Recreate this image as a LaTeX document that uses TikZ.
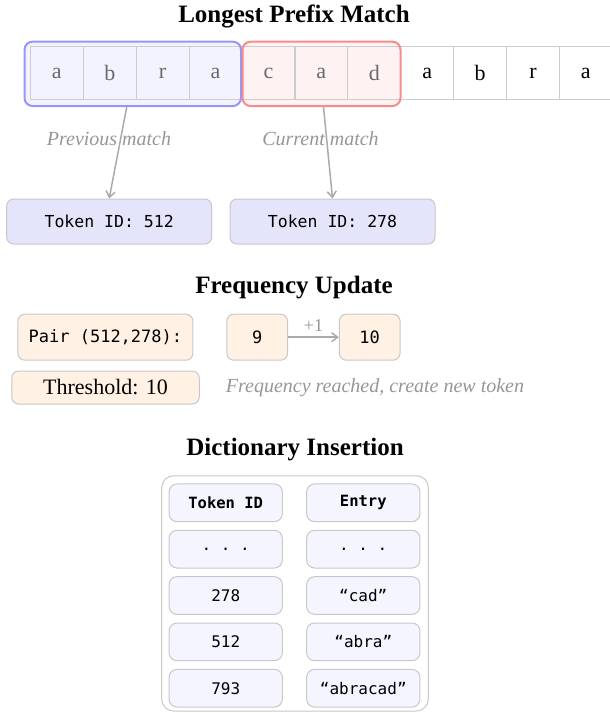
\documentclass[tikz,border=0pt]{standalone}
\usepackage{fontspec}
\setmainfont{Liberation Serif}
\setmonofont{DejaVu Sans Mono}
\usetikzlibrary{arrows.meta}
\definecolor{bluebd}{RGB}{150,150,250}
\definecolor{redbd}{RGB}{245,140,140}
\definecolor{bluefill}{RGB}{243,243,255}
\definecolor{redfill}{RGB}{255,242,242}
\definecolor{tokfill}{RGB}{228,228,250}
\definecolor{peach}{RGB}{255,241,228}
\definecolor{greybd}{RGB}{200,200,200}
\definecolor{cellbd}{RGB}{205,205,205}
\definecolor{lblgrey}{RGB}{150,150,150}
\definecolor{lettergrey}{RGB}{105,105,105}
\definecolor{arrgrey}{RGB}{170,170,170}
\definecolor{dictfill}{RGB}{245,245,255}
\begin{document}
\begin{tikzpicture}[x=1pt,y=-1pt,
  title/.style={font=\fontsize{25}{29}\selectfont\bfseries, inner sep=0pt},
  cell/.style={draw=cellbd, line width=1.2pt, minimum width=52.9pt, minimum height=52.6pt, inner sep=0pt, font=\fontsize{22}{26}\selectfont},
  matchbox/.style={rounded corners=8pt, line width=2pt, minimum height=64.3pt, inner sep=0pt},
  tokbox/.style={draw=greybd, line width=1pt, fill=tokfill, rounded corners=7pt, minimum width=205pt, minimum height=45pt, inner sep=0pt, font=\fontsize{16.5}{20}\selectfont\ttfamily},
  lbl/.style={text=lblgrey, font=\fontsize{20}{24}\selectfont\itshape, inner sep=0pt},
  arr/.style={draw=arrgrey, line width=1.5pt, -{Straight Barb[length=6pt,width=9pt]}},
  peachbox/.style={draw=greybd, line width=1pt, fill=peach, rounded corners=7pt, minimum height=46pt, inner sep=0pt, font=\fontsize{17}{20}\selectfont\ttfamily},
  dictcell/.style={draw=greybd, line width=1pt, fill=dictfill, rounded corners=8pt, minimum width=113.3pt, minimum height=37.7pt, inner sep=0pt, font=\fontsize{16}{19}\selectfont\ttfamily},
  dicthead/.style={dictcell, font=\fontsize{15.5}{19}\selectfont\ttfamily\bfseries}
]
\useasboundingbox (0,0) rectangle (610,713);

% ---- Longest Prefix Match ----
\node[title] (t1) at (294,16) {Longest Prefix Match};
\node[matchbox, fill=bluefill, minimum width=216.5pt] (prevbg) at (132.75,73.85) {};
\node[matchbox, fill=redfill, minimum width=158pt] (currbg) at (321.5,73.85) {};
\foreach \i/\ch in {0/a,1/b,2/r,3/a}
  \node[cell, fill=bluefill, text=lettergrey] (c\i) at ({30.4+52.9*\i+26.45},73) {\ch};
\foreach \i/\ch in {4/c,5/a,6/d}
  \node[cell, fill=redfill, text=lettergrey] (c\i) at ({30.4+52.9*\i+26.45},73) {\ch};
\foreach \i/\ch in {7/a,8/b,9/r,10/a}
  \node[cell, fill=white, text=black] (c\i) at ({30.4+52.9*\i+26.45},73) {\ch};
\node[matchbox, draw=bluebd, minimum width=216.5pt] (prev) at (132.75,73.85) {};
\node[matchbox, draw=redbd, minimum width=158pt] (curr) at (321.5,73.85) {};

\node[lbl] (l1) at (109,139) {Previous match};
\node[lbl] (l2) at (320.5,139) {Current match};
\node[tokbox] (tok1) at (109.2,221.5) {Token ID: 512};
\node[tokbox] (tok2) at (332.5,221.5) {Token ID: 278};
\draw[arr] ([xshift=-6pt]prev.south) -- (tok1.north);
\draw[arr] ([xshift=2pt]curr.south) -- (tok2.north);

% ---- Frequency Update ----
\node[title] (t2) at (294,288) {Frequency Update};
\node[peachbox, minimum width=175pt] (pair) at (105.4,337.2) {Pair (512,278):};
\node[peachbox, minimum width=60.7pt] (nine) at (257.2,337.2) {9};
\node[peachbox, minimum width=60.7pt] (ten) at (369.7,337.2) {10};
\draw[arr] (nine.east) -- node[above=5pt, text=lblgrey, font=\fontsize{18}{21}\selectfont, inner sep=0pt] (plus) {+1} (ten.west);
\node[draw=greybd, line width=1pt, fill=peach, rounded corners=7pt, minimum width=187.5pt, minimum height=33pt, inner sep=0pt, font=\fontsize{22}{26}\selectfont] (thr) at (105.5,387.5) {Threshold: 10};
\node[lbl, anchor=west] (note) at (225.7,388) {Frequency reached, create new token};

% ---- Dictionary Insertion ----
\node[title] (t3) at (295,450) {Dictionary Insertion};
\node[draw=greybd, line width=1pt, fill=white, rounded corners=12pt, minimum width=266.6pt, minimum height=235.3pt, inner sep=0pt] (dict) at (295,593.4) {};
\node[dicthead] (h1) at (225.7,502.8) {Token ID};
\node[dicthead] (h2) at (363.3,502.8) {Entry};
\node[dictcell] (r1a) at (225.7,549.15) {. . .};
\node[dictcell] (r1b) at (363.3,549.15) {. . .};
\node[dictcell] (r2a) at (225.7,595.5) {278};
\node[dictcell] (r2b) at (363.3,595.5) {“cad”};
\node[dictcell] (r3a) at (225.7,641.85) {512};
\node[dictcell] (r3b) at (363.3,641.85) {“abra”};
\node[dictcell] (r4a) at (225.7,688.2) {793};
\node[dictcell] (r4b) at (363.3,688.2) {“abracad”};
\end{tikzpicture}
\end{document}
